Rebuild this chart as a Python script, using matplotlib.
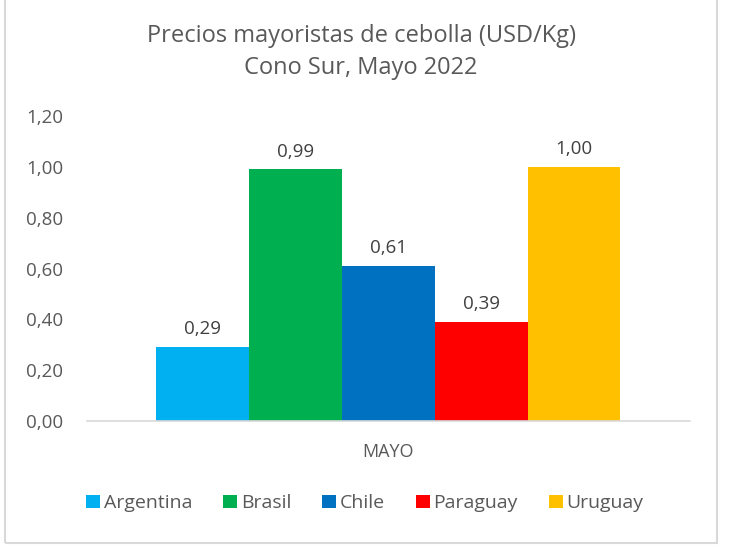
import numpy as np
import matplotlib.pyplot as plt
from matplotlib.patches import Rectangle

plt.rcParams['font.family'] = ['Open Sans', 'DejaVu Sans']

paises = ['Argentina', 'Brasil', 'Chile', 'Paraguay', 'Uruguay']
precios = [0.29, 0.99, 0.61, 0.39, 1.00]
colores = ['#00B0F0', '#00B050', '#0070C0', '#FF0000', '#FFC000']
categoria = 'MAYO'
yticks = [0.0, 0.2, 0.4, 0.6, 0.8, 1.0, 1.2]

gris = '#595959'

fig = plt.figure(figsize=(7.34, 5.53), dpi=100)
ax = fig.add_axes([0.1185, 0.2387, 0.8215, 0.5513])

n = len(paises)
ancho = 0.7695 / n
for i, (p, v, c) in enumerate(zip(paises, precios, colores)):
    x = (i - (n - 1) / 2) * ancho
    ax.bar(x, v, width=ancho, color=c, label=p)
    ax.text(x, v + 0.035, f'{v:.2f}'.replace('.', ','), ha='center', va='bottom',
            fontsize=13.5, color='#404040')

ax.set_xlim(-0.5, 0.5)
ax.set_ylim(0, 1.2)
ax.set_yticks(yticks)
ax.set_yticklabels([f'{t:.2f}'.replace('.', ',') for t in yticks], fontsize=13.5, color=gris)
ax.set_xticks([0])
ax.set_xticklabels([categoria], fontsize=13, color=gris)
ax.tick_params(axis='both', length=0)
ax.tick_params(axis='x', pad=16)
ax.tick_params(axis='y', pad=17)
for s in ['top', 'right', 'left']:
    ax.spines[s].set_visible(False)
ax.spines['bottom'].set_color('#D9D9D9')
ax.spines['bottom'].set_linewidth(1.2)

fig.text(0.492, 0.935, 'Precios mayoristas de cebolla (USD/Kg)', ha='center', va='center',
         fontsize=17, color=gris)
fig.text(0.492, 0.877, 'Cono Sur, Mayo 2022', ha='center', va='center',
         fontsize=17, color=gris)

leg = fig.legend(loc='center', bbox_to_anchor=(0.497, 0.09), ncol=5, frameon=False,
                 fontsize=14, handlelength=0.7, handleheight=0.7, handletextpad=0.2,
                 columnspacing=1.6, labelcolor=gris)

fig.patches.append(Rectangle((0.0068, 0.018), 0.970, 0.99, transform=fig.transFigure,
                             fill=False, edgecolor='#D9D9D9', linewidth=1.5))

fig.savefig('out.png', dpi=100)
